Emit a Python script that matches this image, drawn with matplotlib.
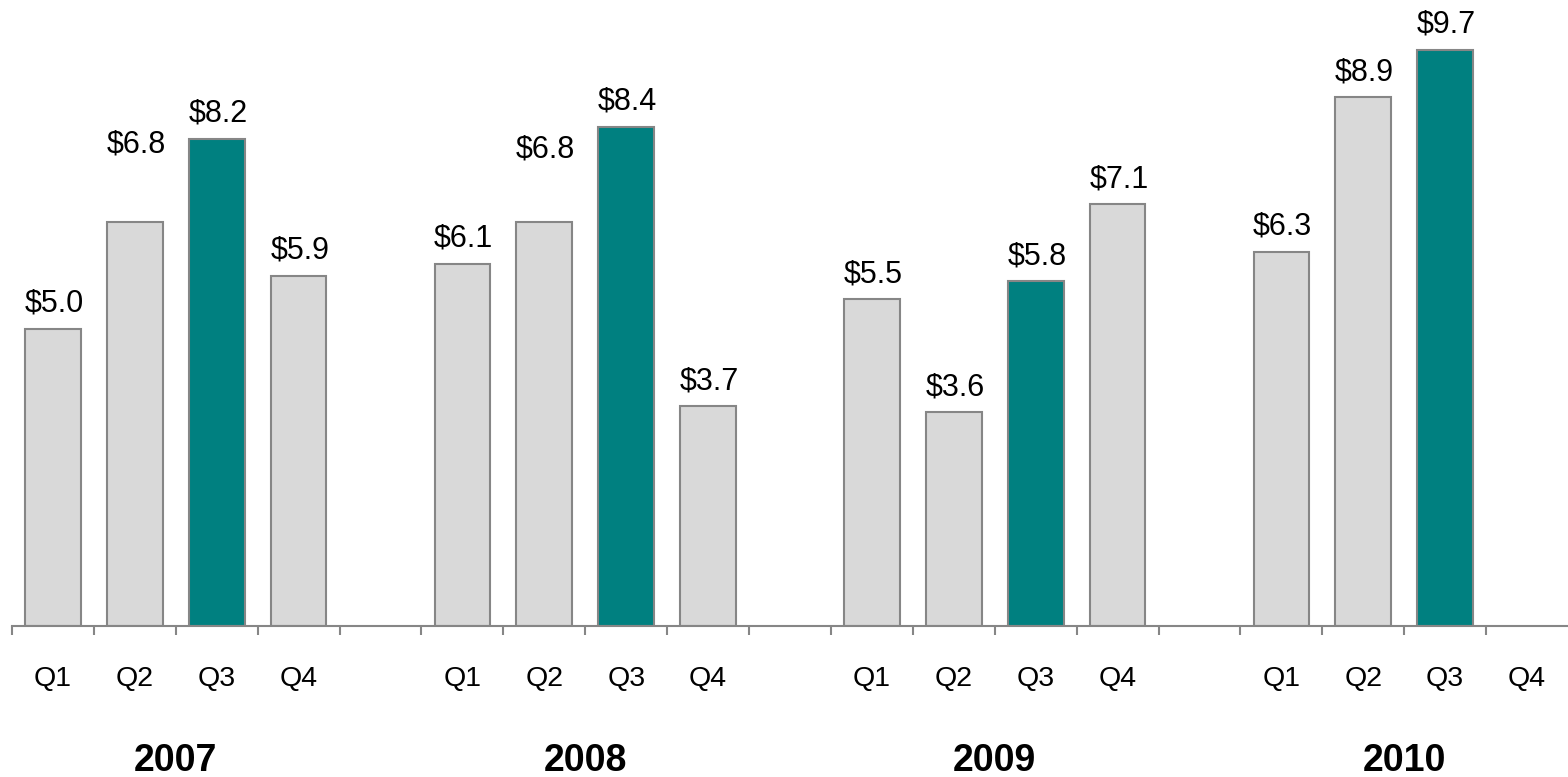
import matplotlib
matplotlib.use("Agg")
import matplotlib.pyplot as plt
from matplotlib.transforms import ScaledTranslation
import numpy as np

years = ["2007", "2008", "2009", "2010"]
quarters = ["Q1", "Q2", "Q3", "Q4"]
values = {
    "2007": [5.0, 6.8, 8.2, 5.9],
    "2008": [6.1, 6.8, 8.4, 3.7],
    "2009": [5.5, 3.6, 5.8, 7.1],
    "2010": [6.3, 8.9, 9.7, None],
}
highlight_quarter = "Q3"

# style
GREY = "#D9D9D9"
TEAL = "#008080"
EDGE = "#868686"
FONT = "Liberation Sans"
# extra lift (points) for labels that sit higher than the default
label_lift = {("2007", "Q2"): 38, ("2008", "Q2"): 34}

W, H = 1568, 777
BASE = 626
fig = plt.figure(figsize=(W / 100, H / 100), dpi=100)
ax = fig.add_axes([12 / W, (H - BASE) / H, (W - 12) / W, BASE / H])

q_tr = ax.get_xaxis_transform() + ScaledTranslation(0, -(686 - BASE) / 100, fig.dpi_scale_trans)
y_tr = ax.get_xaxis_transform() + ScaledTranslation(0, -(771 - BASE) / 100, fig.dpi_scale_trans)

slots_per_year = len(quarters) + 1
for yi, yr in enumerate(years):
    for qi, q in enumerate(quarters):
        v = values[yr][qi]
        x = yi * slots_per_year + qi
        ax.text(x, 0, q, transform=q_tr, ha="center", va="baseline",
                fontsize=20.5, family=FONT, color="black")
        if v is None:
            continue
        color = TEAL if q == highlight_quarter else GREY
        ax.bar(x, v, width=0.68, color=color, edgecolor=EDGE, linewidth=1.5, zorder=2)
        ax.annotate(f"${v:.1f}", (x, v), xytext=(1, 12.3 + label_lift.get((yr, q), 0)),
                    textcoords="offset points", ha="center", va="baseline",
                    fontsize=22, family=FONT, color="black")
    cx = yi * slots_per_year + (len(quarters) - 1) / 2
    ax.text(cx, 0, yr, transform=y_tr, ha="center", va="baseline",
            fontsize=27, fontweight="bold", family=FONT, color="black")

ax.set_xlim(-0.5, 18.5)
ax.set_ylim(0, BASE / 59.4)
ax.set_xticks(np.arange(-0.5, 18.0, 1.0))
ax.set_xticklabels([])
ax.tick_params(axis="x", direction="out", length=6.5, width=1.5, color=EDGE)
ax.set_yticks([])
for s in ["left", "top", "right"]:
    ax.spines[s].set_visible(False)
ax.spines["bottom"].set_color(EDGE)
ax.spines["bottom"].set_linewidth(1.5)
ax.patch.set_alpha(0)

fig.savefig("out.png", dpi=100)
